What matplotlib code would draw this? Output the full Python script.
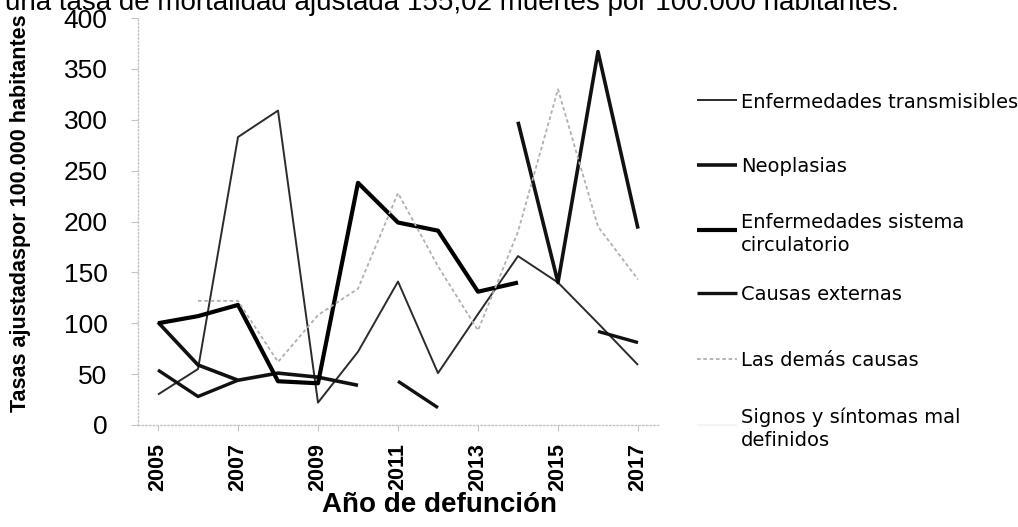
import numpy as np
import matplotlib
matplotlib.use('Agg')
import matplotlib.pyplot as plt
from matplotlib.lines import Line2D

nan = np.nan

# ---------------- data ----------------
years = [2005, 2006, 2007, 2008, 2009, 2010, 2011, 2012, 2013, 2014, 2015, 2016, 2017]
tick_years = [2005, 2007, 2009, 2011, 2013, 2015, 2017]
y_ticks = [0, 50, 100, 150, 200, 250, 300, 350, 400]

transmisibles = [30, 55, 283, 309, 22, 72, 141, 51, 109, 166, 140, 100, 59]
neoplasias = [101, 59, 44, 51, 47, 39, nan, nan, nan, 298, 140, 367, 193]
circulatorio = [100, 107, 118, 43, 41, 238, 199, 191, 131, 140, nan, nan, nan]
externas = [54, 28, 44, nan, nan, nan, 43, 17, nan, nan, nan, 92, 81]
demas = [nan, 122, 122, 62, 108, 134, 228, 156, 93, 190, 330, 195, 143]
signos = [nan, nan, nan, nan, nan, nan, nan, nan, nan, nan, nan, nan, nan]

labels = [
    "Enfermedades transmisibles",
    "Neoplasias",
    "Enfermedades sistema\ncirculatorio",
    "Causas externas",
    "Las demás causas",
    "Signos y síntomas mal\ndefinidos",
]
values = [transmisibles, neoplasias, circulatorio, externas, demas, signos]

title = "una tasa de mortalidad ajustada 155,02 muertes por 100.000 habitantes."
ylabel = "Tasas ajustadaspor 100.000 habitantes"
xlabel = "Año de defunción"

# ---------------- styles ----------------
styles = [
    dict(color="#2b2b2b", lw=1.4),
    dict(color="#111111", lw=2.6),
    dict(color="#000000", lw=3.0),
    dict(color="#111111", lw=2.4),
    dict(color="#b0b0b0", lw=1.3, ls=(0, (2, 1.5))),
    dict(color="#f4f4f4", lw=1.5),
]

SANS = ["Liberation Sans", "DejaVu Sans"]

W, H = 1018, 527
fig = plt.figure(figsize=(W / 100, H / 100), dpi=100)
fig.patch.set_facecolor("white")

ax = fig.add_axes([138 / W, 1 - 425 / H, 520 / W, 407 / H])

for vals, st in zip(values, styles):
    ax.plot(years, vals, solid_capstyle="butt", **st)

ax.set_xlim(2004.5, 2017.5)
ax.set_ylim(0, 400)
ax.set_xticks(tick_years)
ax.set_yticks(y_ticks)

for s in ["top", "right"]:
    ax.spines[s].set_visible(False)
for s in ["left", "bottom"]:
    ax.spines[s].set_color("#c4c4c4")
    ax.spines[s].set_linestyle(":")
    ax.spines[s].set_linewidth(1.0)

ax.tick_params(axis="y", length=5, width=0.8, color="#c4c4c4", pad=17, labelsize=19)
ax.tick_params(axis="x", length=4, width=0.8, color="#c4c4c4", pad=9)
for t in ax.get_yticklabels():
    t.set_family(SANS)
ax.set_xticklabels([str(y) for y in tick_years], rotation=90,
                   fontsize=15.5, fontweight="bold", family=SANS)

# title (cut at top, as in the scan)
fig.text(5 / W, 1 - 10 / H, title, ha="left", va="baseline", fontsize=20,
         family=SANS)

# axis labels
fig.text(21 / W, 1 - 213 / H, ylabel, rotation=90, ha="center", va="center",
         fontsize=15.5, fontweight="bold", family=SANS)
fig.text(440 / W, 1 - 505 / H, xlabel, ha="center", va="center",
         fontsize=20, fontweight="bold", family=SANS)

# legend (manual, right side)
leg_y = [100, 165, 230, 293, 359, 425]
for lab, st, yy in zip(labels, styles, leg_y):
    yf = 1 - yy / H
    fig.add_artist(Line2D([697 / W, 737 / W], [yf, yf], transform=fig.transFigure,
                          solid_capstyle="butt", **st))
    fig.text(741 / W, yf, lab, ha="left", va="center_baseline", fontsize=14,
             linespacing=1.25, family=["DejaVu Sans"])

fig.savefig("out.png", dpi=100, facecolor="white")
